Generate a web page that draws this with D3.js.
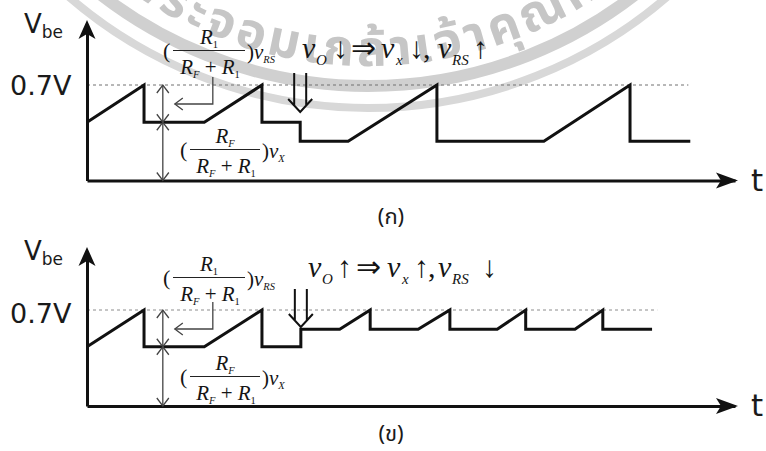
<!DOCTYPE html>
<html><head><meta charset="utf-8">
<script src="https://cdn.jsdelivr.net/npm/d3@7"></script>
<style>
html,body{margin:0;padding:0;background:#fff;}
svg{display:block;}
.sans{font-family:"DejaVu Sans",Verdana,sans-serif;fill:#1a1a1a;}
.math{font-family:"Liberation Serif","Times New Roman",serif;fill:#151515;}
.thai{font-family:"Noto Sans Thai","Noto Serif Thai",Loma,Garuda,sans-serif;}
</style></head><body>
<svg id="chart" width="766" height="451"></svg>
<script>
// ---- data -------------------------------------------------------------
// Base-emitter voltage vs time, two cases. Times are arbitrary units.
const timeDomain = [0, 10];
const thresholdVolt = 0.7;

// (ก) v_O falls: the reset level drops partway through
const fallTimes = [0, 0.88, 0.88, 1.81, 2.70, 2.70, 3.29, 3.29, 4.03, 5.40, 5.40, 7.05, 8.38, 8.38, 9.31];
const fallVolts = [0.427, 0.7, 0.427, 0.427, 0.7, 0.427, 0.427, 0.287, 0.287, 0.7, 0.287, 0.287, 0.7, 0.287, 0.287];

// (ข) v_O rises: the reset level steps up
const riseTimes = [0, 0.88, 0.88, 1.81, 2.70, 2.70, 3.30, 3.30, 3.90, 4.37, 4.37, 5.11, 5.60, 5.60, 6.33, 6.77, 6.77, 7.53, 7.96, 7.96, 8.72];
const riseVolts = [0.432, 0.7, 0.432, 0.432, 0.7, 0.432, 0.432, 0.559, 0.559, 0.7, 0.559, 0.559, 0.7, 0.559, 0.559, 0.7, 0.559, 0.559, 0.7, 0.559, 0.559];

const panelLabels = ["(ก)", "(ข)"];
const thresholdEnds = [9.28, 8.80];   // where the dashed 0.7 V line stops
const changeTimes = [3.29, 3.30];     // instant v_O changes
const bracketTime = 1.17;             // divider bracket position
const thresholdText = "0.7V";
const watermarkText = "พระจอมเกล้าเจ้าคุณทหารลาดกระบัง";

// ---- layout -----------------------------------------------------------
const svg = d3.select("#chart");
const x = d3.scaleLinear().domain(timeDomain).range([87, 735]);

const panels = [
  {times: fallTimes, volts: fallVolts, axisY: 180.5, refY: 85, tipY: 20, sdy: 0,
   stmt: {y: 58, dir: ["↓", "↓", "↑"], xs: [302, 316, 333, 351, 381, 396, 409, 423, 438, 452, 473]},
   arrow: [73, 112], lbl: [391, 224]},
  {times: riseTimes, volts: riseVolts, axisY: 406, refY: 310, tipY: 247, sdy: 227,
   stmt: {y: 277, dir: ["↑", "↑", "↓"], xs: [308, 322, 337, 356, 387, 402, 414, 428, 438, 452, 482]},
   arrow: [289, 327], lbl: [391, 441]}
];

// ---- watermark (seal ring + text) ---------------------------------------
const wm = svg.append("g").attr("class", "watermark");
const wc = [368, -350];
[[436, 12, "#d0d0d0"], [458, 8, "#d8d8d8"]].forEach(([r, sw, c]) => {
  wm.append("circle").attr("cx", wc[0]).attr("cy", wc[1]).attr("r", r)
    .attr("fill", "none").attr("stroke", c).attr("stroke-width", sw);
});
const tr = 416;
const a0 = 126 * Math.PI / 180, a1 = 40 * Math.PI / 180;
const p0 = [wc[0] + tr * Math.cos(a0), wc[1] + tr * Math.sin(a0)];
const p1 = [wc[0] + tr * Math.cos(a1), wc[1] + tr * Math.sin(a1)];
wm.append("path").attr("id", "wmArc")
  .attr("d", `M${p0[0]},${p0[1]} A${tr},${tr} 0 0 0 ${p1[0]},${p1[1]}`)
  .attr("fill", "none");
wm.append("text").attr("class", "thai").attr("font-size", 50).attr("font-weight", 700)
  .attr("letter-spacing", 4).attr("fill", "#c6c6c6")
  .append("textPath").attr("href", "#wmArc").attr("startOffset", 0)
  .text(watermarkText);

// ---- helpers ----------------------------------------------------------
function rich(g, x0, y0, size, parts, anchor) {
  const t = g.append("text").attr("class", "math").attr("x", x0).attr("y", y0)
    .attr("font-size", size).attr("text-anchor", anchor || "start");
  let shifted = 0;
  parts.forEach(p => {
    const s = t.append("tspan").text(p.t);
    if (p.x !== undefined) s.attr("x", p.x);
    if (p.i) s.attr("font-style", "italic");
    const want = p.sub ? size * 0.22 : 0;
    if (want !== shifted) { s.attr("dy", want - shifted); shifted = want; }
    if (p.sub) s.attr("font-size", size * 0.5);
  });
  return t;
}
const R1 = [{t: "R", i: 1}, {t: "1", sub: 1}];
const RF = [{t: "R", i: 1}, {t: "F", sub: 1, i: 1}];
const sumR = [...RF, {t: " + "}, ...R1];

function fraction(g, xl, barY, barW, num, suffix) {
  const size = 21;
  rich(g, xl, barY + 7, 22, [{t: "("}]);
  const cx = xl + 10 + barW / 2;
  rich(g, cx, barY - 7, size, num, "middle");
  g.append("line").attr("x1", xl + 10).attr("x2", xl + 10 + barW)
    .attr("y1", barY).attr("y2", barY).attr("stroke", "#222").attr("stroke-width", 1.1);
  rich(g, cx + 1, barY + 23, size, sumR, "middle");
  rich(g, xl + 12 + barW, barY + 8, size, [{t: ")"}, {t: "v", i: 1}, {t: suffix, sub: 1, i: 1}]);
}

function openHead(g, tx, ty, dx, dy, half, len) {
  // open V arrowhead with tip at (tx,ty) pointing along (dx,dy)
  const px = -dy, py = dx;
  g.append("path")
    .attr("d", `M${tx - dx * len + px * half},${ty - dy * len + py * half} L${tx},${ty} L${tx - dx * len - px * half},${ty - dy * len - py * half}`)
    .attr("fill", "none").attr("stroke", "#444").attr("stroke-width", 1.3);
}

// ---- panels -----------------------------------------------------------
panels.forEach((P, k) => {
  const g = svg.append("g");
  const y = d3.scaleLinear().domain([0, thresholdVolt]).range([P.axisY, P.refY]);
  const pts = P.times.map((t, i) => [t, P.volts[i]]);

  // dashed 0.7 V reference
  g.append("line").attr("x1", x(0)).attr("x2", x(thresholdEnds[k]))
    .attr("y1", y(thresholdVolt)).attr("y2", y(thresholdVolt))
    .attr("stroke", k ? "#8c8c8c" : "#707070").attr("stroke-width", 1).attr("stroke-dasharray", "3,3");

  // axes
  const xAxis = d3.axisBottom(x).tickValues([]).tickSizeOuter(0);
  g.append("g").attr("transform", `translate(0,${P.axisY})`).call(xAxis)
    .select(".domain").attr("stroke", "#111").attr("stroke-width", 3);
  const yTop = d3.scaleLinear().domain([0, 1]).range([P.axisY, P.tipY + 12]);
  g.append("g").attr("transform", `translate(${x(0)},0)`).call(d3.axisLeft(yTop).tickValues([]).tickSizeOuter(0))
    .select(".domain").attr("stroke", "#111").attr("stroke-width", 3);
  const xe = x.range()[1] + 3;
  g.append("path").attr("fill", "#111")
    .attr("d", `M${xe},${P.axisY} L${xe - 22},${P.axisY - 8} L${xe - 17},${P.axisY} L${xe - 22},${P.axisY + 8}Z`);
  const x0 = x(0);
  g.append("path").attr("fill", "#111")
    .attr("d", `M${x0},${P.tipY} L${x0 - 8.5},${P.tipY + 19} L${x0},${P.tipY + 14} L${x0 + 8.5},${P.tipY + 19}Z`);

  // waveform
  g.append("path").datum(pts)
    .attr("d", d3.line().x(d => x(d[0])).y(d => y(d[1])))
    .attr("fill", "none").attr("stroke", "#111").attr("stroke-width", 3)
    .attr("stroke-linejoin", "miter");

  // axis labels
  const vb = g.append("text").attr("class", "sans").attr("x", 24).attr("y", P.tipY + 13);
  vb.append("tspan").attr("font-size", 26).text("V");
  vb.append("tspan").attr("font-size", 17).attr("dy", 5).text("be");
  g.append("text").attr("class", "sans").attr("x", 10).attr("y", y(thresholdVolt) + 10 + (k ? 3 : 0))
    .attr("font-size", 27).text(thresholdText);
  g.append("text").attr("class", "sans").attr("x", 751).attr("y", P.axisY + 10)
    .attr("font-size", 31).text("t");

  // divider bracket: 0 .. reset level .. 0.7 V
  const bx = x(bracketTime), lv = P.volts[2];
  const yb0 = y(0), yb1 = y(lv), yb2 = y(thresholdVolt);
  g.append("line").attr("x1", bx).attr("x2", bx).attr("y1", yb0).attr("y2", yb2)
    .attr("stroke", "#444").attr("stroke-width", 1.3);
  openHead(g, bx, yb2, 0, -1, 6, 8);
  openHead(g, bx, yb1, 0, 1, 6, 8);
  openHead(g, bx, yb1, 0, -1, 6, 8);
  openHead(g, bx, yb0, 0, 1, 6, 8);

  // leader from the upper fraction to the upper span
  const lx = bx + 50, ly0 = yb2 - 8, ly1 = yb2 + 19;
  g.append("path").attr("d", `M${lx},${ly0} V${ly1} H${bx + 12}`)
    .attr("fill", "none").attr("stroke", "#444").attr("stroke-width", 1.3);
  openHead(g, bx + 12, ly1, -1, 0, 6, 8);

  // fractions
  fraction(g, 163, 50.5 + P.sdy, 72, R1, "RS");
  fraction(g, 180, 149.5 + P.sdy, 70, RF, "X");

  // hollow arrow marking the change in v_O
  const ax = x(changeTimes[k]), at = P.arrow[0], ap = P.arrow[1], hb = ap - 13;
  g.append("path")
    .attr("d", `M${ax - 6},${at} V${hb + 6.5} M${ax + 6},${at} V${hb + 6.5} M${ax - 12},${hb} L${ax},${ap} L${ax + 12},${hb}`)
    .attr("fill", "none").attr("stroke", "#111").attr("stroke-width", 2);

  // cause/effect statement
  const d = P.stmt.dir, xs = P.stmt.xs;
  rich(g, xs[0], P.stmt.y, 30, [
    {t: "v", i: 1, x: xs[0]}, {t: "O", sub: 1, i: 1, x: xs[1]}, {t: d[0], x: xs[2]}, {t: "⇒", x: xs[3]},
    {t: "v", i: 1, x: xs[4]}, {t: "x", sub: 1, i: 1, x: xs[5]}, {t: d[1], x: xs[6]}, {t: ",", x: xs[7]},
    {t: "v", i: 1, x: xs[8]}, {t: "RS", sub: 1, i: 1, x: xs[9]}, {t: d[2], x: xs[10]}
  ]);

  // panel caption
  g.append("text").attr("class", "thai").attr("x", P.lbl[0]).attr("y", P.lbl[1])
    .attr("text-anchor", "middle").attr("font-size", 22).attr("fill", "#1a1a1a")
    .text(panelLabels[k]);
});
</script></body></html>
